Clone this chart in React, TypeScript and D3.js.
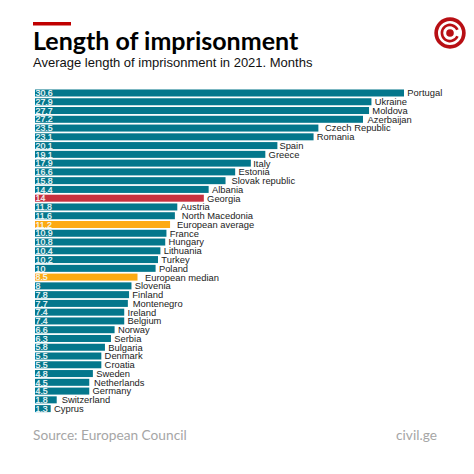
import * as d3 from "d3";

const countries = [
  "Portugal", "Ukraine", "Moldova", "Azerbaijan", "Czech Republic", "Romania", "Spain", "Greece",
  "Italy", "Estonia", "Slovak republic", "Albania", "Georgia", "Austria", "North Macedonia",
  "European average", "France", "Hungary", "Lithuania", "Turkey", "Poland", "European median",
  "Slovenia", "Finland", "Montenegro", "Ireland", "Belgium", "Norway", "Serbia", "Bulgaria",
  "Denmark", "Croatia", "Sweden", "Netherlands", "Germany", "Switzerland", "Cyprus",
];
const months = [
  30.6, 27.9, 27.7, 27.2, 23.5, 23.1, 20.1, 19.1, 17.9, 16.6, 15.8, 14.4, 14, 11.8, 11.6, 11.2,
  10.9, 10.8, 10.4, 10.2, 10, 8.5, 8, 7.8, 7.7, 7.4, 7.4, 6.6, 6.3, 5.8, 5.5, 5.5, 4.8, 4.5, 4.5,
  1.8, 1.3,
];
const highlighted = ["Georgia"];
const benchmarks = ["European average", "European median"];

const TEAL = "#04778c";
const RED = "#c8313f";
const AMBER = "#fdaa12";

// the labels were placed by hand in the original, not all the same distance from the bar
const labelGap: Record<string, number> = {
  Azerbaijan: 4.5,
  "Czech Republic": 6.6,
  Spain: 2,
  Italy: 2.4,
  "Slovak republic": 6,
  "North Macedonia": 6.8,
  "European average": 7,
  "European median": 7.5,
  Montenegro: 4.8,
  Netherlands: 4.7,
  Switzerland: 5,
};

const x = d3.scaleLinear().domain([0, 30.6]).range([35, 404]);
const y = d3.scaleBand().domain(countries).range([88.6, 413]).paddingInner(0.2).paddingOuter(0.1);

const barColor = (c: string) =>
  highlighted.includes(c) ? RED : benchmarks.includes(c) ? AMBER : TEAL;

// rings of the logo, built with d3.arc so the C has a real opening
const ring = d3.arc();

export default function App() {
  return (
    <svg
      width={474}
      height={474}
      viewBox="0 0 474 474"
      style={{ position: "absolute", left: 0, top: 0, background: "#fff" }}
    >
      <rect x={33} y={22} width={38} height={3.5} fill="#c00000" />
      <text x={33} y={50} fontFamily="Lato" fontWeight={700} fontSize={25} fill="#000">
        Length of imprisonment
      </text>
      <text x={33} y={67} fontFamily="Liberation Sans" fontSize={13} fill="#111">
        Average length of imprisonment in 2021. Months
      </text>

      <g transform="translate(450,33)" fill="#b80f14">
        <path d={ring({ innerRadius: 12, outerRadius: 15.7, startAngle: 0, endAngle: 2 * Math.PI })!} />
        <path d={ring({ innerRadius: 6.8, outerRadius: 9.4, startAngle: 0.4, endAngle: 2 * Math.PI - 0.4 })!} transform="rotate(90)" />
        <circle r={3.8} />
      </g>

      {countries.map((c, i) => (
        <g key={c}>
          <rect
            x={x(0)}
            y={y(c)!}
            width={x(months[i]) - x(0)}
            height={y.bandwidth()}
            fill={barColor(c)}
          />
          <text
            x={x(0) + 0.5}
            y={y(c)! + y.bandwidth() / 2 + 3.2}
            fontFamily="Liberation Sans"
            fontSize={8.8}
            fill="#f4fbfc"
            stroke="#f4fbfc"
            strokeWidth={0.2}
          >
            {months[i]}
          </text>
          <text
            x={x(months[i]) + (labelGap[c] ?? 3.3)}
            y={y(c)! + y.bandwidth() / 2 + 3.4}
            fontFamily="Liberation Sans"
            fontSize={9.4}
            fill="#222"
          >
            {c}
          </text>
        </g>
      ))}

      <text x={33} y={440} fontFamily="Lato" fontSize={13.7} fill="#a6a6a6">
        Source: European Council
      </text>
      <text x={396} y={440} fontFamily="Lato" fontSize={13.7} fill="#a6a6a6">
        civil.ge
      </text>
    </svg>
  );
}
